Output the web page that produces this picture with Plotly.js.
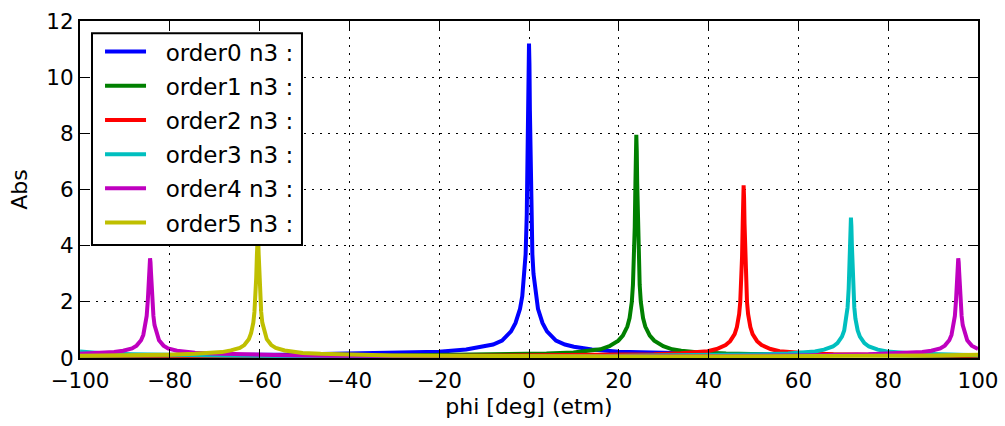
<!DOCTYPE html>
<html>
<head>
<meta charset="utf-8">
<script src="https://cdn.plot.ly/plotly-3.0.1.min.js"></script>
<style>html,body{margin:0;padding:0;background:#fff;}#chart{width:1005px;height:426px;}</style>
</head>
<body>
<div id="chart"></div>
<script>
// Series names
const seriesNames = ["order0 n3 :", "order1 n3 :", "order2 n3 :", "order3 n3 :", "order4 n3 :", "order5 n3 :"];
const seriesColors = ["#0000ff", "#008000", "#ff0000", "#00bfbf", "#bf00bf", "#bfbf00"];

// order0
const x0 = [-100,-90,-70,-55,-40,-30,-20,-14,-10,-8,-6,-4,-3,-2,-1.5,-1,-0.75,-0.5,-0.35,-0.2,-0.1,0,0.1,0.2,0.35,0.5,0.75,1,1.5,2,3,4,6,8,10,14,20,30,40,55,70,90,100];
const y0 = [0.095,0.09,0.10,0.12,0.15,0.18,0.22,0.30,0.40,0.48,0.62,0.95,1.25,1.75,2.2,3.0,3.7,5.1,6.6,8.8,10.45,11.2,10.45,8.8,6.6,5.1,3.7,3.0,2.2,1.75,1.25,0.95,0.62,0.48,0.40,0.30,0.22,0.18,0.15,0.12,0.10,0.09,0.095];

// order1
const x1 = [-100,-80,-66.1,-46.1,-31.1,-16.1,-6.1,3.9,9.9,13.9,15.9,17.9,19.9,20.9,21.9,22.4,22.9,23.15,23.4,23.55,23.7,23.8,23.9,24.0,24.1,24.25,24.4,24.65,24.9,25.4,25.9,26.9,27.9,29.9,31.9,33.9,37.9,43.9,53.9,63.9,78.9,93.9,100];
const y1 = [0.09,0.075,0.07,0.08,0.09,0.11,0.13,0.16,0.20,0.26,0.31,0.42,0.62,0.80,1.12,1.42,2.0,2.6,3.6,4.65,6.21,7.38,7.95,7.38,6.21,4.65,3.6,2.6,2.0,1.42,1.12,0.80,0.62,0.42,0.31,0.26,0.20,0.16,0.13,0.11,0.09,0.08,0.075];

// order2
const x2 = [-100,-70,-42.2,-22.2,-7.2,7.8,17.8,27.8,33.8,37.8,39.8,41.8,43.8,44.8,45.8,46.3,46.8,47.05,47.3,47.45,47.6,47.7,47.8,47.9,48.0,48.15,48.3,48.55,48.8,49.3,49.8,50.8,51.8,53.8,55.8,57.8,61.8,67.8,77.8,87.8,100];
const y2 = [0.10,0.07,0.06,0.07,0.08,0.09,0.11,0.13,0.17,0.21,0.24,0.32,0.46,0.60,0.85,1.10,1.56,2.0,2.8,3.6,4.80,5.71,6.15,5.71,4.80,3.6,2.8,2.0,1.56,1.10,0.85,0.60,0.46,0.32,0.24,0.21,0.17,0.13,0.11,0.09,0.08];

// order3
const x3 = [-100,-94.3,-88.3,-78.3,-68.3,-53.3,-38.3,-18.3,1.7,16.7,31.7,41.7,51.7,57.7,61.7,63.7,65.7,67.7,68.7,69.7,70.2,70.7,70.95,71.2,71.35,71.5,71.6,71.7,71.8,71.9,72.05,72.2,72.45,72.7,73.2,73.7,74.7,75.7,77.7,79.7,81.7,85.7,91.7,100];
const y3 = [0.23,0.16,0.13,0.10,0.09,0.07,0.06,0.06,0.06,0.07,0.09,0.10,0.13,0.16,0.20,0.23,0.30,0.41,0.53,0.76,0.98,1.40,1.80,2.48,3.15,4.07,4.71,5.0,4.71,4.07,3.15,2.48,1.80,1.40,0.98,0.76,0.53,0.41,0.30,0.23,0.20,0.16,0.13,0.10];

// order4
const x4 = [-100,-98.4,-94.4,-92.4,-90.4,-88.4,-87.4,-86.4,-85.9,-85.4,-85.15,-84.9,-84.75,-84.6,-84.5,-84.4,-84.3,-84.2,-84.05,-83.9,-83.65,-83.4,-82.9,-82.4,-81.4,-80.4,-78.4,-76.4,-74.4,-70.4,-64.4,-54.4,-44.4,-29.4,-14.4,5.6,25.6,40.6,55.6,65.6,75.6,81.6,85.6,87.6,89.6,91.6,92.6,93.6,94.1,94.6,94.85,95.1,95.25,95.4,95.5,95.6,95.7,95.8,95.95,96.1,96.35,96.6,97.1,97.6,98.6,99.6,100];
const y4 = [0.15,0.16,0.19,0.21,0.26,0.34,0.44,0.63,0.82,1.17,1.50,2.04,2.51,3.08,3.41,3.55,3.41,3.08,2.51,2.04,1.50,1.17,0.82,0.63,0.44,0.34,0.26,0.21,0.19,0.16,0.13,0.10,0.08,0.07,0.06,0.05,0.06,0.07,0.08,0.10,0.13,0.16,0.19,0.21,0.26,0.34,0.44,0.63,0.82,1.17,1.50,2.04,2.51,3.08,3.41,3.55,3.41,3.08,2.51,2.04,1.50,1.17,0.82,0.63,0.44,0.34,0.32];

// order5
const x5 = [-100,-90.4,-80.4,-74.4,-70.4,-68.4,-66.4,-64.4,-63.4,-62.4,-61.9,-61.4,-61.15,-60.9,-60.75,-60.6,-60.5,-60.4,-60.3,-60.2,-60.05,-59.9,-59.65,-59.4,-58.9,-58.4,-57.4,-56.4,-54.4,-52.4,-50.4,-46.4,-40.4,-30.4,-20.4,-5.4,9.6,29.6,49.6,64.6,79.6,89.6,100];
const y5 = [0.08,0.09,0.12,0.15,0.18,0.21,0.27,0.36,0.46,0.67,0.88,1.26,1.64,2.26,2.86,3.67,4.17,4.4,4.17,3.67,2.86,2.26,1.64,1.26,0.88,0.67,0.46,0.36,0.27,0.21,0.18,0.15,0.12,0.09,0.08,0.06,0.06,0.05,0.06,0.06,0.08,0.09,0.12];

// Axis ticks
const xTicks = [-100,-80,-60,-40,-20,0,20,40,60,80,100];
const yTicks = [0,2,4,6,8,10,12];

const xs = [x0, x1, x2, x3, x4, x5];
const ys = [y0, y1, y2, y3, y4, y5];

const FONT = "DejaVu Sans";
const PAD = "\u00a0\u00a0";
const traces = xs.map((x, i) => ({
  type: "scatter",
  mode: "lines",
  x: x,
  y: ys[i],
  name: PAD + seriesNames[i],
  legendgroup: "g" + i,
  line: { color: seriesColors[i], width: 4 },
  hoverinfo: "skip"
}));

const axisCommon = {
  showline: true,
  linecolor: "#000",
  linewidth: 2,
  mirror: "ticks",
  ticks: "inside",
  ticklen: 9,
  tickwidth: 1,
  tickcolor: "#000",
  showgrid: true,
  gridcolor: "#000",
  gridwidth: 1,
  griddash: "2px,6px",
  zeroline: false,
  tickfont: { family: FONT, size: 21.5, color: "#000" }
};

const layout = {
  width: 1005,
  height: 426,
  margin: { l: 80, r: 27, t: 21, b: 68 },
  paper_bgcolor: "#fff",
  plot_bgcolor: "#fff",
  font: { family: FONT, color: "#000" },
  xaxis: Object.assign({}, axisCommon, {
    range: [-100, 100],
    tickmode: "array",
    tickvals: xTicks,
    ticklabelstandoff: 2,
    title: { text: "phi [deg] (etm)", font: { family: FONT, size: 22, color: "#000" }, standoff: 7 }
  }),
  yaxis: Object.assign({}, axisCommon, {
    range: [0, 12],
    tickmode: "array",
    tickvals: yTicks,
    title: { text: "Abs", font: { family: FONT, size: 22, color: "#000" }, standoff: 13 }
  }),
  shapes: [{
    type: "rect",
    xref: "paper", yref: "paper",
    x0: 0.01336, x1: 0.2472,
    y0: 0.3353, y1: 0.9635,
    line: { color: "#000", width: 2 },
    fillcolor: "#fff",
    layer: "above"
  }],
  showlegend: true,
  legend: {
    x: 0.0223,
    y: 0.973,
    xanchor: "left",
    yanchor: "top",
    bgcolor: "rgba(0,0,0,0)",
    borderwidth: 0,
    font: { family: FONT, size: 23, color: "#000" },
    tracegroupgap: 1.3,
    itemwidth: 41
  }
};

Plotly.newPlot("chart", traces, layout, { staticPlot: true, displayModeBar: false });
</script>
</body>
</html>
